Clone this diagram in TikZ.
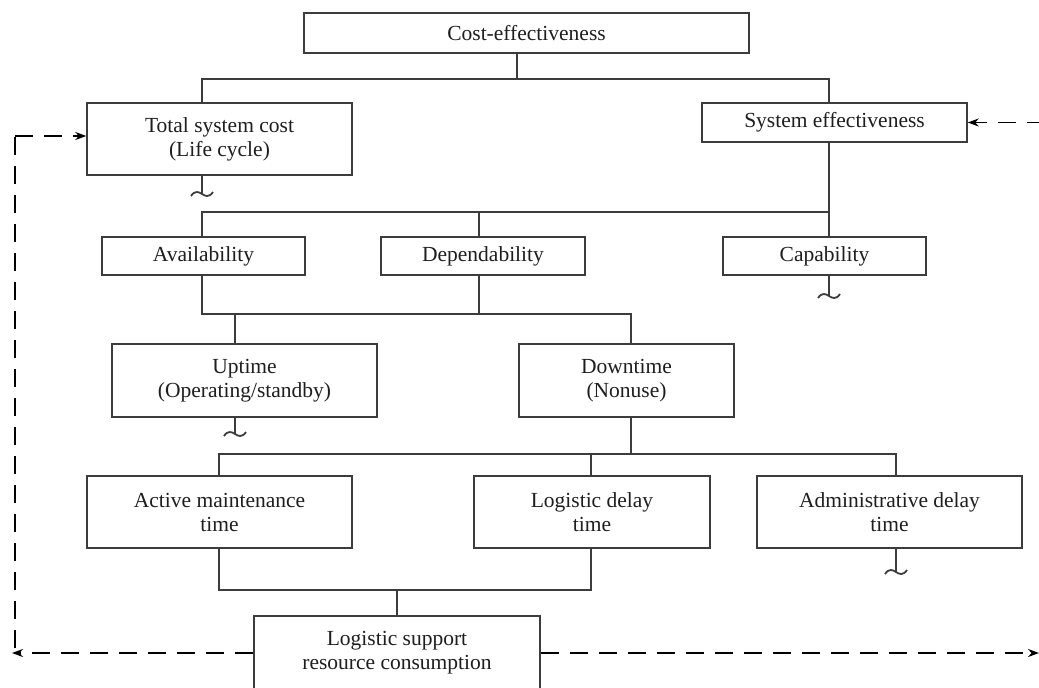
\documentclass[tikz,border=0pt]{standalone}
\usepackage{fontspec}
\setmainfont{Liberation Serif}
\usetikzlibrary{arrows.meta}

\definecolor{linegray}{HTML}{3C3C3C}
\definecolor{inkgray}{HTML}{1E1E1E}

\begin{document}
\begin{tikzpicture}[
  x=1pt, y=-1pt,
  box/.style={draw=linegray, line width=1.5pt, rectangle, inner sep=0pt,
              align=center, text=inkgray,
              font=\fontsize{21.5}{24}\selectfont},
  tree/.style={draw=linegray, line width=1.5pt},
  feedback/.style={draw=black, line width=1.8pt, dash pattern=on 18pt off 11pt,
                   -{Stealth[length=11pt,width=8pt]}},
  breakmark/.pic={\draw[linegray, line width=1.8pt]
      (-11,2) .. controls (-7,-4) and (-3,-2) .. (0,0)
              .. controls (3,2) and (7,4) .. (11,-2);}
]
\useasboundingbox (0,0) rectangle (1039,688);
\clip (0,0) rectangle (1039,688);

% boxes
\node[box, minimum width=445pt, minimum height=40pt] (ce)   at (526.5,33)   {Cost-effectiveness};
\node[box, minimum width=265pt, minimum height=72pt] (tsc)  at (219.5,139)  {Total system cost\\(Life cycle)};
\node[box, minimum width=265pt, minimum height=39pt] (se)   at (834.5,122.5){System effectiveness};
\node[box, minimum width=203pt, minimum height=38pt] (av)   at (203.5,256)  {Availability};
\node[box, minimum width=204pt, minimum height=38pt] (dep)  at (483,256)    {Dependability};
\node[box, minimum width=203pt, minimum height=38pt] (cap)  at (824.5,256)  {Capability};
\node[box, minimum width=265pt, minimum height=73pt] (up)   at (244.5,380.5){Uptime\\(Operating/standby)};
\node[box, minimum width=215pt, minimum height=73pt] (down) at (626.5,380.5){Downtime\\(Nonuse)};
\node[box, minimum width=265pt, minimum height=72pt] (amt)  at (219.5,512)  {Active maintenance\\time};
\node[box, minimum width=236pt, minimum height=72pt] (ldt)  at (592,512)    {Logistic delay\\time};
\node[box, minimum width=265pt, minimum height=72pt] (adt)  at (889.5,512)  {Administrative delay\\time};
\node[box, minimum width=286pt, minimum height=74pt] (lsrc) at (397,653)    {Logistic support\\resource consumption};

% junction points of the connecting bars
\coordinate (a1) at (202,79);  \coordinate (a2) at (517,79);  \coordinate (a3) at (829,79);
\coordinate (b1) at (202,212); \coordinate (b2) at (479,212); \coordinate (b3) at (829,212);
\coordinate (c1) at (202,314); \coordinate (c2) at (235,314); \coordinate (c3) at (479,314); \coordinate (c4) at (631,314);
\coordinate (d1) at (219,454); \coordinate (d2) at (591,454); \coordinate (d3) at (631,454); \coordinate (d4) at (896,454);
\coordinate (e1) at (219,590); \coordinate (e2) at (397,590); \coordinate (e3) at (591,590);

% level 1: cost-effectiveness
\draw[tree] (a2 |- ce.south) -- (a2);
\draw[tree] (a1 |- tsc.north) -- (a1) -- (a3) -- (a3 |- se.north);

% level 2: system effectiveness
\draw[tree] (b3 |- se.south) -- (b3);
\draw[tree] (b1 |- av.north) -- (b1) -- (b3) -- (b3 |- cap.north);
\draw[tree] (b2) -- (b2 |- dep.north);

% level 3: availability and dependability
\draw[tree] (c1 |- av.south) -- (c1) -- (c4) -- (c4 |- down.north);
\draw[tree] (c3 |- dep.south) -- (c3);
\draw[tree] (c2) -- (c2 |- up.north);

% level 4: downtime
\draw[tree] (d3 |- down.south) -- (d3);
\draw[tree] (d1 |- amt.north) -- (d1) -- (d4) -- (d4 |- adt.north);
\draw[tree] (d2) -- (d2 |- ldt.north);

% level 5: logistic support
\draw[tree] (e1 |- amt.south) -- (e1) -- (e3) -- (e3 |- ldt.south);
\draw[tree] (e2) -- (e2 |- lsrc.north);

% open branches
\coordinate (t1) at (202,194);
\coordinate (t2) at (829,296);
\coordinate (t3) at (235,434);
\coordinate (t4) at (896,572);
\draw[tree] (t1 |- tsc.south) -- (t1);  \pic at (t1) {breakmark};
\draw[tree] (t2 |- cap.south) -- (t2);  \pic at (t2) {breakmark};
\draw[tree] (t3 |- up.south)  -- (t3);  \pic at (t3) {breakmark};
\draw[tree] (t4 |- adt.south) -- (t4);  \pic at (t4) {breakmark};

% feedback loops
\coordinate (fl)  at (12,653);
\coordinate (flb) at (15,648);
\coordinate (flt) at (15,136);
\coordinate (fr)  at (1039,653);
\coordinate (frt) at (1045,122.5);
\draw[feedback] (lsrc.west) -- (fl);
\draw[feedback, -] (flb) -- (flt);
\draw[feedback] (flt) -- (tsc.west |- flt);
\draw[feedback] (lsrc.east) -- (fr);
\draw[feedback] (frt) -- (se.east);
\end{tikzpicture}
\end{document}
